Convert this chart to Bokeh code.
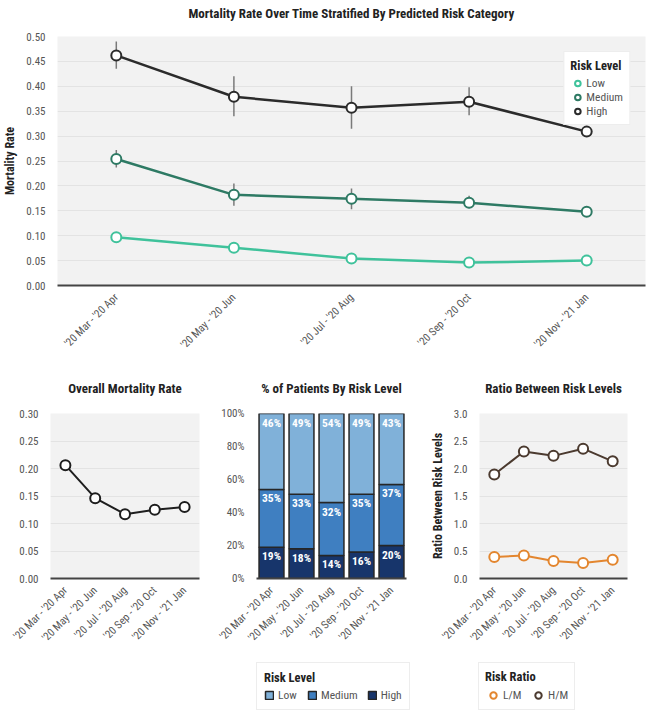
import math
from bokeh.plotting import figure
from bokeh.layouts import column, row
from bokeh.models import (ColumnDataSource, Legend, LegendItem, FactorRange, Range1d,
                          NumeralTickFormatter, PrintfTickFormatter, FixedTicker, Spacer)
from bokeh.embed import file_html
from bokeh.resources import INLINE
from bokeh.core.properties import value

# ---------------- data ----------------
periods = ["'20 Mar - '20 Apr", "'20 May - '20 Jun", "'20 Jul - '20 Aug",
           "'20 Sep - '20 Oct", "'20 Nov - '21 Jan"]

low_rate = [0.097, 0.076, 0.054, 0.046, 0.050]
low_lo = [0.092, 0.066, 0.050, 0.043, 0.047]
low_hi = [0.102, 0.086, 0.058, 0.050, 0.053]

medium_rate = [0.254, 0.182, 0.174, 0.166, 0.148]
medium_lo = [0.237, 0.160, 0.153, 0.155, 0.143]
medium_hi = [0.272, 0.205, 0.195, 0.180, 0.152]

high_rate = [0.462, 0.379, 0.357, 0.369, 0.309]
high_lo = [0.435, 0.340, 0.315, 0.342, 0.300]
high_hi = [0.490, 0.420, 0.400, 0.398, 0.315]

overall_rate = [0.206, 0.146, 0.117, 0.125, 0.130]

pct_low = [46, 49, 54, 49, 43]
pct_medium = [35, 33, 32, 35, 37]
pct_high = [19, 18, 14, 16, 20]

ratio_lm = [0.39, 0.42, 0.32, 0.28, 0.34]
ratio_hm = [1.89, 2.31, 2.23, 2.36, 2.13]

top_ticks = [0.00, 0.05, 0.10, 0.15, 0.20, 0.25, 0.30, 0.35, 0.40, 0.45, 0.50]
overall_ticks = [0.00, 0.05, 0.10, 0.15, 0.20, 0.25, 0.30]
pct_ticks = [0, 20, 40, 60, 80, 100]
ratio_ticks = [0.0, 0.5, 1.0, 1.5, 2.0, 2.5, 3.0]

# ---------------- style ----------------
FONT = "Roboto Condensed"
C_LOW = "#3fc29b"
C_MED = "#2e7a64"
C_HIGH = "#2b2b2b"
B_LOW = "#80b1d9"
B_MED = "#3f7fc1"
B_HIGH = "#17356b"
B_EDGE = "#262626"
R_LM = "#e3862f"
R_HM = "#4b3a2f"


def style(p, bg="#f2f2f2"):
    p.background_fill_color = bg
    p.border_fill_color = "white"
    p.outline_line_color = None
    p.xgrid.grid_line_color = None
    p.ygrid.grid_line_color = "#e3e3e3"
    p.xaxis.axis_line_color = "#444444"
    p.xaxis.axis_line_width = 2
    p.xaxis.major_tick_line_color = None
    p.xaxis.minor_tick_line_color = None
    p.xaxis.major_label_orientation = math.pi / 4
    p.xaxis.major_label_text_font = FONT
    p.xaxis.major_label_text_font_size = "11px"
    p.xaxis.major_label_text_color = "#555555"
    p.xaxis.major_label_standoff = 4
    p.yaxis.axis_line_color = None
    p.yaxis.major_tick_line_color = None
    p.yaxis.minor_tick_line_color = None
    p.yaxis.major_label_text_font = FONT
    p.yaxis.major_label_text_font_size = "11px"
    p.yaxis.major_label_text_color = "#555555"
    p.yaxis.major_label_standoff = 6
    p.yaxis.axis_label_text_font = FONT
    p.yaxis.axis_label_text_font_size = "12px"
    p.yaxis.axis_label_text_font_style = "bold"
    p.yaxis.axis_label_text_color = "#222222"
    p.yaxis.axis_label_standoff = 6


def style_legend(lg):
    lg.title_text_font = FONT
    lg.title_text_font_size = "12.5px"
    lg.title_text_font_style = "bold"
    lg.title_text_color = "#222222"
    lg.label_text_font = FONT
    lg.label_text_font_size = "11.5px"
    lg.label_text_color = "#555555"
    lg.border_line_color = "#dcdcdc"
    lg.background_fill_color = "white"
    lg.background_fill_alpha = 1
    lg.glyph_width = 14
    lg.glyph_height = 14
    lg.label_height = 14
    lg.spacing = 0
    lg.padding = 6
    lg.title_standoff = 3
    lg.label_standoff = 2


def blank_fig(width, height, left, right, top_border, title=None, x_range=None, y_range=None):
    f = figure(width=width, height=height, title=title,
               x_range=x_range or FactorRange(factors=periods), y_range=y_range or Range1d(0, 1),
               output_backend="svg", toolbar_location=None,
               x_axis_location=None, y_axis_location=None,
               min_border_left=left, min_border_top=top_border, min_border_right=right,
               min_border_bottom=0)
    f.outline_line_color = None
    f.background_fill_color = "white"
    f.border_fill_color = "white"
    f.grid.visible = False
    if title is not None:
        f.title.text_font = FONT
        f.title.text_font_size = "13px"
        f.title.text_font_style = "bold"
        f.title.text_color = "#222222"
        f.title.align = "center"
        f.title.standoff = 4
    return f


# ---------------- top chart ----------------
top_title = blank_fig(649, 26, 50, 4, 22, title="Mortality Rate Over Time Stratified By Predicted Risk Category")

top = figure(width=649, height=346, x_range=FactorRange(factors=periods), y_range=Range1d(0, 0.5),
             output_backend="svg", toolbar_location=None,
             min_border_left=50, min_border_right=4, min_border_top=10, min_border_bottom=87)
style(top)
top.yaxis.axis_label = "Mortality Rate"
top.yaxis.ticker = FixedTicker(ticks=top_ticks)
top.yaxis.formatter = NumeralTickFormatter(format="0.00")

rend = {}
for name, rate, lo, hi, col in [("Low", low_rate, low_lo, low_hi, C_LOW),
                                ("Medium", medium_rate, medium_lo, medium_hi, C_MED),
                                ("High", high_rate, high_lo, high_hi, C_HIGH)]:
    src = ColumnDataSource(dict(x=periods, y=rate, lo=lo, hi=hi))
    top.segment(x0="x", y0="lo", x1="x", y1="hi", source=src, line_color="#7a7a7a", line_width=1.5)
    top.line(x="x", y="y", source=src, line_color=col, line_width=2.5)
    rend[name] = top.scatter(x="x", y="y", source=src, size=10, fill_color="white",
                             line_color=col, line_width=2)

lg_top = Legend(items=[LegendItem(label=k, renderers=[rend[k]]) for k in ["Low", "Medium", "High"]],
                title="Risk Level", location="top_right")
style_legend(lg_top)
lg_top.margin = 15
top.add_layout(lg_top)

# ---------------- bottom titles ----------------
t1 = blank_fig(215, 28, 50, 16, 25, title="Overall Mortality Rate")
t2 = blank_fig(210, 28, 41, 19, 25, title="% of Patients By Risk Level")
t3 = blank_fig(224, 28, 54, 22, 25, title="Ratio Between Risk Levels")

BH = 255
# ---------------- bottom left: overall ----------------
p1 = figure(width=215, height=BH, x_range=FactorRange(factors=periods), y_range=Range1d(0, 0.30),
            output_backend="svg", toolbar_location=None,
            min_border_left=50, min_border_right=16, min_border_top=13, min_border_bottom=77)
style(p1)
p1.yaxis.ticker = FixedTicker(ticks=overall_ticks)
p1.yaxis.formatter = NumeralTickFormatter(format="0.00")
s1 = ColumnDataSource(dict(x=periods, y=overall_rate))
p1.line(x="x", y="y", source=s1, line_color="#1e1e1e", line_width=2)
p1.scatter(x="x", y="y", source=s1, size=10, fill_color="white", line_color="#1e1e1e", line_width=2)

# ---------------- bottom middle: % patients ----------------
low_top = [h + m + l for h, m, l in zip(pct_high, pct_medium, pct_low)]
med_top = [h + m for h, m in zip(pct_high, pct_medium)]
s2 = ColumnDataSource(dict(x=periods, High=pct_high, Medium=pct_medium, Low=pct_low,
                           low_top=low_top, med_top=med_top, high_top=pct_high,
                           low_lab=[f"{v}%" for v in pct_low],
                           med_lab=[f"{v}%" for v in pct_medium],
                           high_lab=[f"{v}%" for v in pct_high]))
p2 = figure(width=210, height=BH, x_range=FactorRange(factors=periods), y_range=Range1d(0, 100),
            output_backend="svg", toolbar_location=None,
            min_border_left=41, min_border_right=19, min_border_top=13, min_border_bottom=77)
style(p2, bg="white")
p2.ygrid.grid_line_color = None
p2.yaxis.ticker = FixedTicker(ticks=pct_ticks)
p2.yaxis.formatter = PrintfTickFormatter(format="%d%%")
p2.vbar_stack(["High", "Medium", "Low"], x="x", width=0.83, source=s2,
              fill_color=[B_HIGH, B_MED, B_LOW], line_color=B_EDGE, line_width=1.5)
for ycol, tcol in [("low_top", "low_lab"), ("med_top", "med_lab"), ("high_top", "high_lab")]:
    p2.text(x="x", y=ycol, text=tcol, source=s2, y_offset=9, text_align="center",
            text_baseline="middle", text_color="white", text_font=value(FONT),
            text_font_style="bold", text_font_size="11.5px")

# ---------------- bottom right: ratios ----------------
p3 = figure(width=224, height=BH, x_range=FactorRange(factors=periods), y_range=Range1d(0, 3.0),
            output_backend="svg", toolbar_location=None,
            min_border_left=54, min_border_right=22, min_border_top=13, min_border_bottom=77)
style(p3)
p3.yaxis.axis_label = "Ratio Between Risk Levels"
p3.yaxis.ticker = FixedTicker(ticks=ratio_ticks)
p3.yaxis.formatter = NumeralTickFormatter(format="0.0")
s3 = ColumnDataSource(dict(x=periods, lm=ratio_lm, hm=ratio_hm))
p3.line(x="x", y="lm", source=s3, line_color=R_LM, line_width=2)
p3.scatter(x="x", y="lm", source=s3, size=10, fill_color="white", line_color=R_LM, line_width=2)
p3.line(x="x", y="hm", source=s3, line_color=R_HM, line_width=2)
p3.scatter(x="x", y="hm", source=s3, size=10, fill_color="white", line_color=R_HM, line_width=2)

# ---------------- legends row (frames show only the legend) ----------------
lf2 = blank_fig(210, 58, 41, 0, 7, x_range=FactorRange(factors=["key"]), y_range=Range1d(0, 100))
kb = lf2.vbar_stack(["High", "Medium", "Low"], x="x", width=0.83, source=s2,
                    fill_color=[B_HIGH, B_MED, B_LOW], line_color=B_EDGE, line_width=1.5)
lg2 = Legend(items=[LegendItem(label="Low", renderers=[kb[2]]),
                    LegendItem(label="Medium", renderers=[kb[1]]),
                    LegendItem(label="High", renderers=[kb[0]])],
             title="Risk Level", orientation="horizontal", location="top_left")
style_legend(lg2)
lg2.glyph_width = 10
lg2.glyph_height = 10
lg2.label_height = 13
lg2.label_standoff = 4
lg2.spacing = 9
lg2.margin = 0
lg2.padding = 7
lf2.add_layout(lg2)

lf3 = blank_fig(224, 58, 53, 0, 6, y_range=Range1d(1000, 1001))
k_lm = lf3.scatter(x="x", y="lm", source=s3, size=10, fill_color="white", line_color=R_LM, line_width=2)
k_hm = lf3.scatter(x="x", y="hm", source=s3, size=10, fill_color="white", line_color=R_HM, line_width=2)
lg3 = Legend(items=[LegendItem(label="L/M", renderers=[k_lm]), LegendItem(label="H/M", renderers=[k_hm])],
             title="Risk Ratio", orientation="horizontal", location="top_left")
style_legend(lg3)
lg3.glyph_width = 16
lg3.glyph_height = 16
lg3.spacing = 7
lg3.margin = 0
lg3.padding = 6
lf3.add_layout(lg3)

layout = column(top_title, top, row(t1, t2, t3), row(p1, p2, p3),
                row(Spacer(width=215, height=58), lf2, lf3))

open("out.html", "w").write(file_html(layout, INLINE))
